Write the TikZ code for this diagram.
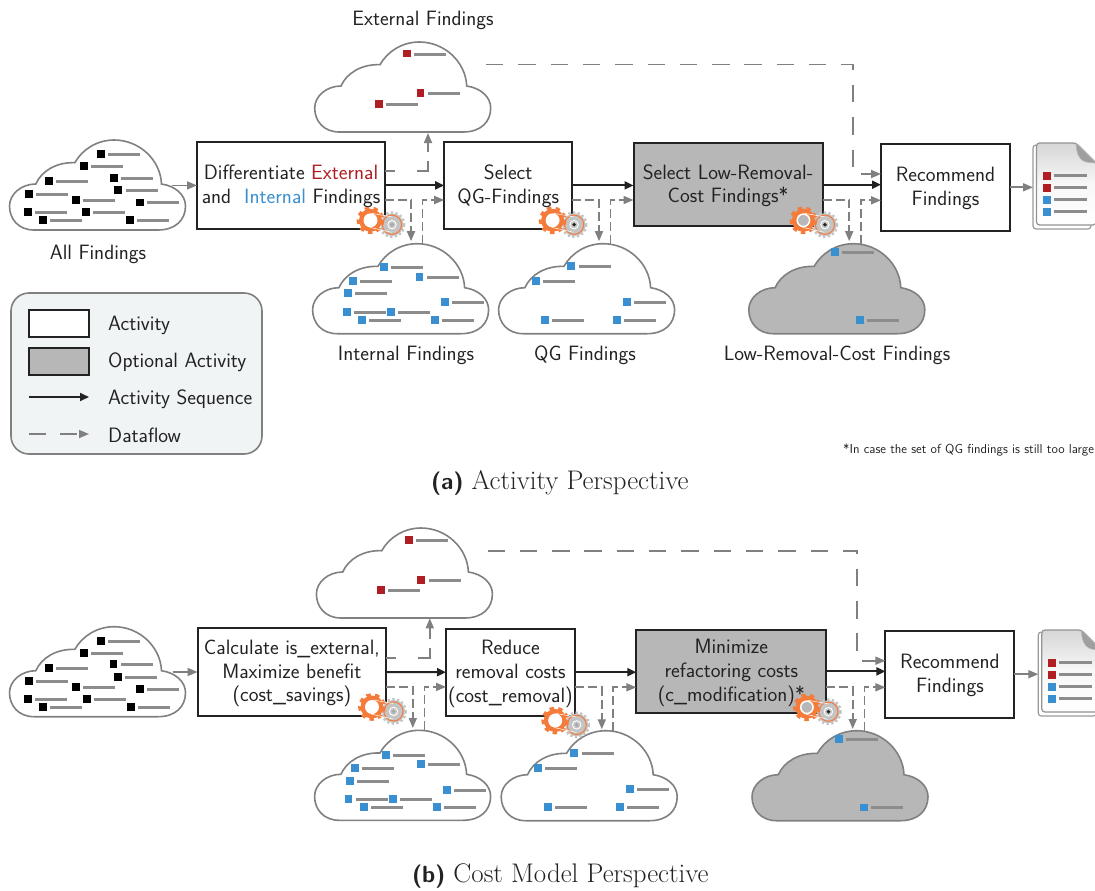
\documentclass[tikz,border=0pt]{standalone}
\usepackage{fontspec}
\usetikzlibrary{arrows.meta,calc}
\definecolor{fred}{HTML}{B01E23}
\definecolor{fblue}{HTML}{3A8FD0}
\definecolor{flow}{HTML}{808080}
\definecolor{inkc}{HTML}{222222}
\definecolor{optgray}{HTML}{B7B7B7}
\definecolor{barc}{HTML}{8C8C8C}
\definecolor{orgear}{HTML}{F47B3A}
\definecolor{grgear}{HTML}{C4C4C4}
\definecolor{legbg}{HTML}{F0F4F5}
\tikzset{
  txt/.style={font=\sffamily\fontsize{20.75}{24}\selectfont,text=inkc,inner sep=0pt,align=center},
  act/.style={draw=inkc,line width=2pt,fill=white,outer sep=0pt,inner sep=0pt,font=\sffamily\fontsize{20.75}{23.7}\selectfont,text=inkc},
  opt/.style={act,fill=optgray},
  seqarrow/.style={draw=inkc,line width=2pt,-{Triangle[length=9pt,width=8pt]}},
  flowline/.style={draw=flow,line width=1.7pt},
  flowarrow/.style={flowline,-{Triangle[length=10pt,width=8pt,fill=flow]}},
  smalldash/.style={flowarrow,dash pattern=on 9pt off 4pt},
  longdash/.style={flowarrow,dash pattern=on 17.4pt off 14.9pt},
  stubdash/.style={flowarrow,dash pattern=on 10pt off 22pt on 21pt off 9pt on 30pt},
  cloudline/.style={draw=flow,line width=1.6pt},
  ghost/.style={inner sep=0pt,outer sep=0pt,anchor=north west,minimum width=#1},
  captxt/.style={font=\fontsize{26.9}{28}\selectfont,text=inkc,inner sep=0pt},
}
\newcommand{\lns}[1]{\raisebox{-1.5pt}[\height][\depth]{\begin{tabular}{@{}c@{}}#1\end{tabular}}}
\newcommand{\capmark}[1]{{\sffamily\bfseries\fontsize{23.4}{28}\selectfont #1}}
\newcommand{\cloudat}[4]{%
  \begin{scope}[shift={(#2,#3)}]
    \path[cloudline,fill=#4] (24.5,90) .. controls (9,90) and (0,79) .. (0,66)
      .. controls (0,54) and (12,44) .. (26.3,44)
      .. controls (32,31) and (47,22) .. (65.3,22.7)
      .. controls (73,9) and (88,0) .. (104.6,0)
      .. controls (130,0) and (151,20) .. (152,44)
      .. controls (166,46) and (176,55) .. (176,66)
      .. controls (176,80) and (166,90) .. (148.4,90) -- cycle;
  \end{scope}
  \node[ghost=176pt,minimum height=90pt] (#1) at (#2,#3) {};}
\newcommand{\fnd}[3]{%
  \pgfmathsetmacro{\fndy}{round(#2)}%
  \fill[#3] (#1-3.8,#2-3.8) rectangle (#1+3.8,#2+3.8);
  \fill[barc] (#1+7.4,\fndy-1) rectangle (#1+39.4,\fndy+2);}
% orange gear at #1,#2 ; #3 = hole of the orange gear, #4 = centre of the grey gear
\newcommand{\gears}[4]{%
  \begin{scope}[shift={(#1,#2)}]
    \fill[grgear] (21.5,4.4) circle (11.5);
    \draw[grgear,line width=2.2pt,dash pattern=on 2.3pt off 2.4pt] (21.5,4.4) circle (12.3);
    \draw[orgear,line width=1pt] (21.5,4.4) circle (9.6);
    \fill[orgear] (0,0) circle (11.5);
    \draw[orgear,line width=3.4pt,dash pattern=on 4.4pt off 4.2pt] (0,0) circle (12.2);
    \draw[white,line width=.5pt] (1,-7) -- (21,-3.5) (-1,7) -- (21,12);
    \fill[#3] (0,0) circle (6.4);
    \draw[white,line width=1.5pt] (0,0) circle (6.2);
    \draw[white,line width=.9pt] (21.5,4.4) circle (4.2);
    \fill[#4] (21.5,4.4) circle (1.9);
  \end{scope}}
\newcommand{\docicon}[3]{%
  \begin{scope}[shift={(#2,#3)}]
    \draw[flow!80,line width=1.2pt,fill=white,rounded corners=3pt] (3,2) -- (0,2) -- (0,86) -- (58,86) -- (58,82);
    \draw[flow!85,line width=1.2pt,top color=gray!32,bottom color=white,middle color=gray!6,rounded corners=3pt] (3.5,0) -- (43,0) -- (63,20) -- (63,82) -- (3.5,82) -- cycle;
    \fill[gray!75,draw=flow!60,line width=.5pt] (43,0) -- (63,20) .. controls (55,19) and (44,22) .. cycle;
    \foreach \yy/\cc in {32.7/fred,44.7/fred,56.7/fblue,68.7/fblue}{
      \fill[\cc] (10,\yy-4) rectangle (18,\yy+4);
      \fill[barc] (21,\yy-1.3) rectangle (53.5,\yy+1.3);}
  \end{scope}
  \node[ghost=62pt,minimum height=86pt] (#1) at (#2,#3) {};}
\begin{document}
\begin{tikzpicture}[x=1pt,y=-1pt]
\useasboundingbox (0,0) rectangle (1095,891);
%% ---------- panel (a) ----------
\cloudat{aAll}{9.5}{140}{white}
\foreach \xx/\yy in {101/154,83.9/166,48.8/181,114/178,118.2/190,28.8/193.7,75.8/200,140/202.3,27.7/212,86/212,42.8/220,129.8/220}{\fnd{\xx}{\yy}{black}}
\cloudat{aExt}{314.7}{42}{white}
\foreach \xx/\yy in {407/53.7,420.4/93,379/104}{\fnd{\xx}{\yy}{fred}}
\cloudat{aInt}{312.6}{243.7}{white}
\foreach \xx/\yy in {383.9/267,419.3/277,353/281,348/293,444.9/302,347/311.7,390.9/311.7,362/319.7,435/319.7}{\fnd{\xx}{\yy}{fblue}}
\cloudat{aQG}{498.6}{243.7}{white}
\foreach \xx/\yy in {571.2/265.7,536/281,544.9/319.7,626.8/302,616.7/319.7}{\fnd{\xx}{\yy}{fblue}}
\cloudat{aLow}{748.8}{243.7}{optgray}
\foreach \xx/\yy in {834.7/251.7,859.7/320}{\fnd{\xx}{\yy}{fblue}}
\node[act,minimum width=188pt,minimum height=87pt] (a1) at (291,185.4) {\lns{Differentiate \textcolor{fred}{External}\\and \ \textcolor{fblue}{Internal} Findings}};
\node[act,minimum width=128pt,minimum height=87pt] (a2) at (508.2,185.4) {\lns{Select\\QG-Findings}};
\node[opt,minimum width=189pt,minimum height=83pt] (a3) at (728,184.7) {\lns{Select Low-Removal-\\Cost Findings*}};
\node[act,minimum width=129pt,minimum height=87pt] (a4) at (945.5,187.3) {\lns{Recommend\\Findings}};
\docicon{aDoc}{1033}{143}
\draw[seqarrow] (a1.east) -- (a2.west);
\draw[seqarrow] (a2.east) -- (a2.east -| a3.west);
\draw[seqarrow] (a3.east) -- (a3.east -| a4.west);
\draw[flowarrow] ([xshift=-14pt]aAll.east |- a1.west) -- (a1.west);
\draw[flowarrow] (a4.east) -- (a4.east -| aDoc.west);
\draw[stubdash] ([yshift=14.6pt]a1.east) -| ([xshift=25.3pt,yshift=-1pt]aExt.south);
\draw[smalldash] ([yshift=-14.6pt]a1.east) -| ([xshift=10.4pt,yshift=2.5pt]aInt.north);
\draw[smalldash] ([xshift=22pt]aInt.north) |- ([yshift=-14.6pt]a2.west);
\draw[smalldash] ([yshift=-14.6pt]a2.east) -| ([xshift=12.4pt,yshift=2.5pt]aQG.north);
\draw[smalldash] ([xshift=24pt]aQG.north) |- ([yshift=-15.3pt]a3.west);
\draw[smalldash] ([yshift=-15.3pt]a3.east) -| ([xshift=12.4pt,yshift=2.5pt]aLow.north);
\draw[smalldash] ([xshift=24pt]aLow.north) |- ([yshift=-13pt]a4.west);
\coordinate (aLa) at (486,64.4);
\coordinate (aLb) at (853,64.4);
\coordinate (aLc) at (853,174);
\draw[longdash] (aLa) -- (aLb) -- (aLc) -- (aLc -| a4.west);
\gears{370.5}{220.3}{white}{gray!70}
\gears{552.6}{220.3}{white}{inkc}
\gears{803.4}{220.3}{optgray}{inkc}
\node[txt] (tExt) at (423,20) {External Findings};
\node[txt] (tAll) at (98,254.5) {All Findings};
\node[txt] (tInt) at (406,355) {Internal Findings};
\node[txt] (tQG) at (585,355) {QG Findings};
\node[txt] (tLow) at (837,355) {Low-Removal-Cost Findings};
\node[font=\sffamily\fontsize{13}{14}\selectfont,text=inkc,inner sep=0pt,anchor=west] (tNote) at (843,450) {*In case the set of QG findings is still too large};
%% legend
\node[draw=flow,line width=1.6pt,fill=legbg,rounded corners=18pt,minimum width=251pt,minimum height=161pt,inner sep=0pt,outer sep=0pt] (leg) at (136.5,373.5) {};
\node[act,minimum width=60pt,minimum height=27pt] (lA) at (59,323.5) {};
\node[opt,minimum width=60pt,minimum height=27pt] (lB) at (59,361.5) {};
\coordinate (lC1) at (29,397); \coordinate (lC2) at (89,397);
\coordinate (lD1) at (29,434); \coordinate (lD2) at (89,434);
\draw[seqarrow] (lC1) -- (lC2);
\draw[flowarrow,dash pattern=on 17pt off 14pt] (lD1) -- (lD2);
\node[txt,anchor=west] (lTa) at (108,325) {Activity};
\node[txt,anchor=west] (lTb) at (108,362.5) {Optional Activity};
\node[txt,anchor=west] (lTc) at (108,399.5) {Activity Sequence};
\node[txt,anchor=west] (lTd) at (108,435.5) {Dataflow};
\node[captxt,anchor=west] (capA) at (431,482.5) {\capmark{(a)} Activity Perspective};
%% ---------- panel (b) ----------
\cloudat{bAll}{9.5}{626.7}{white}
\foreach \xx/\yy in {101/640.7,83.8/652.7,48.8/667.7,113.6/663.7,117.9/676.7,28.8/680.7,75.8/686.7,140/689,27.7/698.7,87/698.7,42.8/706.7,130.8/706.7}{\fnd{\xx}{\yy}{black}}
\cloudat{bExt}{316.4}{528}{white}
\foreach \xx/\yy in {409/539.7,421.2/579.7,381/590}{\fnd{\xx}{\yy}{fred}}
\cloudat{bInt}{314.6}{730.3}{white}
\foreach \xx/\yy in {385.8/754.7,420.9/764,355/768,349.7/780.7,446.9/789.7,348.6/798.7,392.8/798.7,363.7/807,436.7/807}{\fnd{\xx}{\yy}{fblue}}
\cloudat{bQG}{501.2}{730.7}{white}
\foreach \xx/\yy in {574.2/752.7,537.7/767.7,547.9/806.7,629.8/789,619.7/806.7}{\fnd{\xx}{\yy}{fblue}}
\cloudat{bLow}{752}{730.7}{optgray}
\foreach \xx/\yy in {839/738.7,864/807.3}{\fnd{\xx}{\yy}{fblue}}
\node[act,minimum width=188.7pt,minimum height=87.4pt] (b1) at (291.9,672) {\lns{Calculate is\_external,\\Maximize benefit\\(cost\_savings)}};
\node[act,minimum width=129pt,minimum height=87pt] (b2) at (510.5,672.2) {\lns{Reduce\\removal costs\\(cost\_removal)}};
\node[opt,minimum width=190pt,minimum height=83.3pt] (b3) at (731.3,671.4) {\lns{Minimize\\refactoring costs\\(c\_modification)*}};
\node[act,minimum width=129pt,minimum height=87pt] (b4) at (949.9,674.2) {\lns{Recommend\\Findings}};
\docicon{bDoc}{1038.3}{630}
\draw[seqarrow] (b1.east) -- (b2.west);
\draw[seqarrow] (b2.east) -- (b2.east -| b3.west);
\draw[seqarrow] (b3.east) -- (b3.east -| b4.west);
\draw[flowarrow] ([xshift=-13pt]bAll.east |- b1.west) -- (b1.west);
\draw[flowarrow] (b4.east) -- (b4.east -| bDoc.west);
\draw[stubdash] ([yshift=14.3pt]b1.east) -| ([xshift=25.4pt,yshift=-.3pt]bExt.south);
\draw[smalldash] ([yshift=-14.7pt]b1.east) -| ([xshift=10.2pt,yshift=2.3pt]bInt.north);
\draw[smalldash] ([xshift=21.8pt]bInt.north) |- ([yshift=-14.7pt]b2.west);
\draw[smalldash] ([yshift=-15.1pt]b2.east) -| ([xshift=12.6pt,yshift=1.4pt]bQG.north);
\draw[smalldash] ([xshift=24.1pt]bQG.north) |- ([yshift=-15.9pt]b3.west);
\draw[smalldash] ([yshift=-15.9pt]b3.east) -| ([xshift=12.7pt,yshift=1.7pt]bLow.north);
\draw[smalldash] ([xshift=24.6pt]bLow.north) |- ([yshift=-13.1pt]b4.west);
\coordinate (bLa) at (487.5,550.7);
\coordinate (bLb) at (857,550.7);
\coordinate (bLc) at (857,660.7);
\draw[longdash] (bLa) -- (bLb) -- (bLc) -- (bLc -| b4.west);
\gears{372}{707}{white}{gray!70}
\gears{555.2}{720.5}{white}{gray!70}
\gears{806.9}{707.3}{optgray}{inkc}
\node[captxt,anchor=west] (capB) at (412,876) {\capmark{(b)} Cost Model Perspective};
\end{tikzpicture}
\end{document}
